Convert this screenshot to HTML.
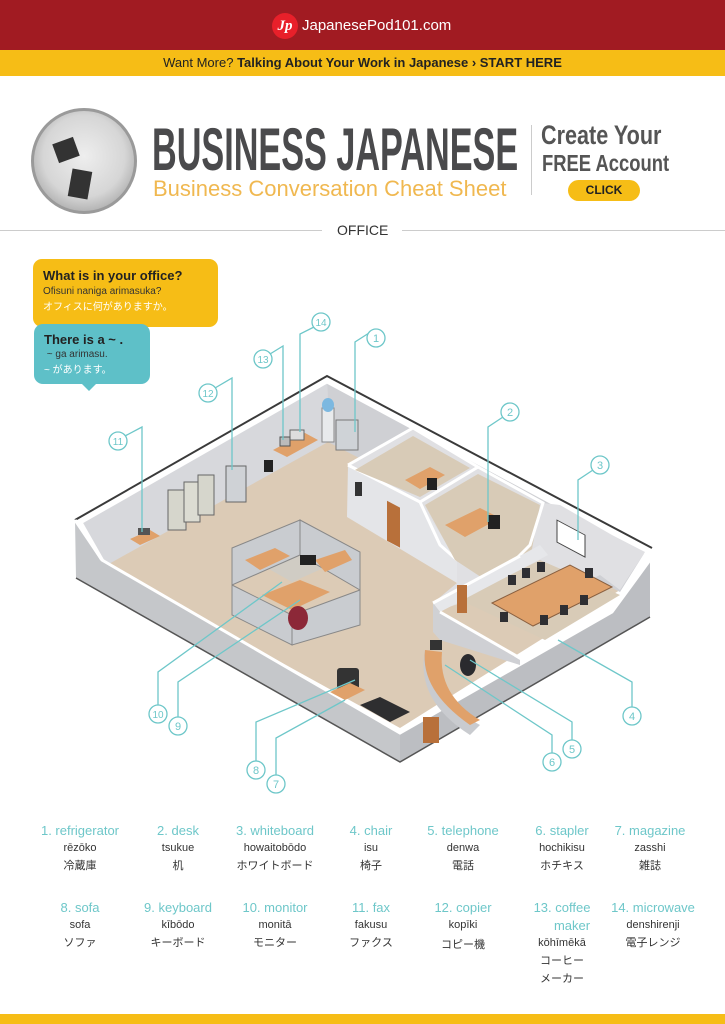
<!DOCTYPE html>
<html><head><meta charset="utf-8"><style>
*{margin:0;padding:0;box-sizing:border-box}
body{width:725px;height:1024px;background:#fff;position:relative;overflow:hidden;font-family:"Liberation Sans","Noto Sans CJK JP",sans-serif}
.abs{position:absolute}
.vh{font-size:13px;line-height:18px;color:#6ec7c9;text-align:center;white-space:nowrap}
.vr{font-size:11px;line-height:16px;color:#333;text-align:center}
.vk{font-size:11px;line-height:16px;color:#333;text-align:center;margin-top:2px}
.col{position:absolute;width:110px;text-align:center}
</style></head><body>
<div class="abs" style="left:0;top:0;width:725px;height:50px;background:#a11b22"></div>
<div class="abs" style="left:272px;top:13px;width:26px;height:26px;border-radius:50%;background:#e8202a;color:#fff;font:italic bold 15px 'Liberation Serif',serif;text-align:center;line-height:26px">Jp</div>
<div class="abs" style="left:302px;top:17px;color:#fff;font-size:15px">JapanesePod101.com</div>
<div class="abs" style="left:0;top:50px;width:725px;height:26px;background:#f6bd16;text-align:center;font-size:13px;line-height:26px;color:#222">Want More? <b>Talking About Your Work in Japanese › START HERE</b></div>
<div class="abs" style="left:31px;top:108px;width:106px;height:106px;border-radius:50%;background:radial-gradient(circle at 50% 45%,#eee 0,#d6d6d6 55%,#888 100%);border:3px solid #9a9a9a"></div>
<div class="abs" style="left:55px;top:140px;width:22px;height:20px;background:#333;transform:rotate(-20deg)"></div>
<div class="abs" style="left:70px;top:170px;width:20px;height:28px;background:#333;transform:rotate(10deg)"></div>
<div class="abs" style="left:152px;top:120px;font-size:60px;line-height:60px;font-weight:bold;color:#4a4a4c;transform:scaleX(0.57);transform-origin:left top;white-space:nowrap">BUSINESS JAPANESE</div>
<div class="abs" style="left:153px;top:176px;font-size:22px;color:#f0b850;white-space:nowrap">Business Conversation Cheat Sheet</div>
<div class="abs" style="left:531px;top:125px;width:1px;height:70px;background:#ccc"></div>
<div class="abs" style="left:541px;top:120px;font-size:27px;font-weight:bold;color:#555;transform:scaleX(0.8);transform-origin:left top;white-space:nowrap">Create Your</div>
<div class="abs" style="left:542px;top:150px;font-size:23px;font-weight:bold;color:#555;transform:scaleX(0.8);transform-origin:left top;white-space:nowrap">FREE Account</div>
<div class="abs" style="left:568px;top:180px;width:72px;height:21px;border-radius:11px;background:#f6bd16;font-size:12px;font-weight:bold;text-align:center;line-height:21px;color:#222">CLICK</div>
<div class="abs" style="left:0;top:230px;width:322px;height:1px;background:#ccc"></div>
<div class="abs" style="left:402px;top:230px;width:323px;height:1px;background:#ccc"></div>
<div class="abs" style="left:337px;top:222px;font-size:14px;color:#333">OFFICE</div>

<svg class="abs" style="left:0;top:0" width="725" height="1024">
<polygon points="328,440 620,590 400,728 105,565" fill="#dccbb6"/>
<polygon points="327,381 82,521 107,565 328,442" fill="#d7d8dc"/>
<polygon points="327,381 645,552 620,592 328,442" fill="#cfd0d4"/>
<polyline points="75,520 327,376 652,548" fill="none" stroke="#3a3a3a" stroke-width="2"/>
<polyline points="82,522 327,382 645,553" fill="none" stroke="#fff" stroke-width="3"/>
<polygon points="75,520 100,560 400,733 400,762 76,578" fill="#c5c7ca"/>
<polygon points="400,733 612,612 650,560 650,617 400,762" fill="#bcbec2"/>
<polyline points="75,520 102,560 400,733 612,612 650,560" fill="none" stroke="#fff" stroke-width="3"/>
<polyline points="76,578 400,762 650,617" fill="none" stroke="#555" stroke-width="1.5"/>
<rect x="423" y="717" width="16" height="26" fill="#b8703a"/>
<polygon points="348,465 413,428 478,467 543,503 560,505 612,535 645,552 620,590 600,575 540,605 515,590 470,600 440,610 433,603 457,583 420,502" fill="#e0e0e3"/>
<polygon points="348,465 420,502 457,560 457,583 347,517" fill="#e4e5e8"/>
<polyline points="348,465 413,428 478,467 420,502 348,465" fill="none" stroke="#fff" stroke-width="3"/>
<polyline points="420,502 440,545 457,560" fill="none" stroke="#fff" stroke-width="3"/>
<polygon points="355,470 413,436 470,468 420,497" fill="#d8cbb7"/>
<polygon points="425,505 478,474 540,505 530,560 490,583 455,560" fill="#d8cbb7"/>
<polyline points="478,467 543,503 530,545 515,560" fill="none" stroke="#fff" stroke-width="3"/>
<polygon points="460,600 540,560 620,595 545,640" fill="#d8cbb7"/>
<polygon points="433,603 540,545 548,555 440,612" fill="#e6e7ea"/>
<polygon points="433,603 440,612 440,640 433,632" fill="#d0d1d4"/>
<polyline points="433,603 520,556" fill="none" stroke="#fff" stroke-width="3"/>
<polygon points="440,612 520,660 520,665 440,640" fill="#cfd0d4"/>
<line x1="440" y1="612" x2="520" y2="658" stroke="#fff" stroke-width="3"/>
<rect x="387" y="500" width="13" height="40" fill="#b8703a" transform="skewY(28) translate(0,-205)"/>
<rect x="457" y="585" width="10" height="28" fill="#b8703a"/>
<rect x="557" y="520" width="28" height="22" fill="#fff" stroke="#444" transform="skewY(28) translate(0,-296)"/>
<rect x="355" y="482" width="7" height="14" fill="#333"/>
<polygon points="492,603 570,565 612,587 533,626" fill="#e0a16a" stroke="#8a6040"/>
<g fill="#2f2f33"><rect x="508" y="575" width="8" height="10"/><rect x="522" y="568" width="8" height="10"/><rect x="537" y="562" width="8" height="10"/><rect x="585" y="568" width="8" height="10"/><rect x="500" y="612" width="8" height="10"/><rect x="540" y="615" width="8" height="10"/><rect x="560" y="605" width="8" height="10"/><rect x="580" y="595" width="8" height="10"/></g>
<polygon points="445,525 480,508 500,518 465,537" fill="#e0a16a"/>
<rect x="488" y="515" width="12" height="14" fill="#222"/>
<polygon points="405,480 430,467 445,475 420,489" fill="#e0a16a"/>
<rect x="427" y="478" width="10" height="12" fill="#222"/>
<rect x="336" y="420" width="22" height="30" fill="#cfd3d7" stroke="#777"/>
<rect x="322" y="408" width="12" height="34" fill="#e8eaec" stroke="#888"/>
<ellipse cx="328" cy="405" rx="6" ry="7" fill="#7cb8e0"/>
<polygon points="273,450 305,433 318,440 287,457" fill="#e0a16a"/>
<rect x="290" y="430" width="14" height="10" fill="#ddd" stroke="#666"/>
<rect x="280" y="437" width="10" height="9" fill="#bbb" stroke="#555"/>
<rect x="226" y="466" width="20" height="36" fill="#cfd2d6" stroke="#666"/>
<rect x="264" y="460" width="9" height="12" fill="#222"/>
<rect x="168" y="490" width="18" height="40" fill="#d6d6cc" stroke="#666"/>
<rect x="184" y="482" width="16" height="40" fill="#dcdcd2" stroke="#666"/>
<rect x="198" y="475" width="16" height="40" fill="#d6d6cc" stroke="#666"/>
<polygon points="130,539 150,530 160,536 140,545" fill="#e0a16a"/>
<rect x="138" y="528" width="12" height="7" fill="#555"/>
<polygon points="232,548 300,520 360,552 292,582" fill="#d0ccc4"/>
<g fill="#c9ccd0" stroke="#888" stroke-width="1">
<polygon points="232,548 300,520 300,555 232,585"/>
<polygon points="300,520 360,552 360,590 300,555"/>
<polygon points="232,585 292,615 292,645 232,615"/>
<polygon points="292,615 360,590 360,625 292,645"/>
</g>
<polygon points="245,560 275,548 290,556 260,570" fill="#e0a16a"/>
<polygon points="315,560 345,550 352,560 325,572" fill="#e0a16a"/>
<polygon points="262,595 300,580 330,592 292,610" fill="#e0a16a"/>
<ellipse cx="298" cy="618" rx="10" ry="12" fill="#8c2838"/>
<rect x="300" y="555" width="16" height="10" fill="#222"/>
<path d="M425,650 Q415,700 470,735 L480,725 Q432,700 440,655 Z" fill="#c9cbcf"/>
<path d="M425,650 Q420,690 470,725 L480,720 Q438,695 442,652 Z" fill="#e0a16a"/>
<rect x="430" y="640" width="12" height="10" fill="#333"/>
<ellipse cx="468" cy="665" rx="8" ry="11" fill="#2a2a2e"/>
<rect x="337" y="668" width="22" height="22" fill="#333" rx="3"/>
<polygon points="330,692 350,683 365,690 345,700" fill="#e0a16a"/>
<polygon points="360,705 380,697 410,712 390,722" fill="#2e2e30"/>
<g fill="none" stroke="#6ec7c9" stroke-width="1.3">
<polyline points="369,333 355,342 355,432"/>
<polyline points="503,417 488,427 488,522"/>
<polyline points="593,470 578,480 578,540"/>
<polyline points="632,707 632,682 558,640"/>
<polyline points="572,740 572,722 470,660"/>
<polyline points="552,753 552,735 445,665"/>
<polyline points="276,775 276,738 345,700"/>
<polyline points="256,761 256,722 355,680"/>
<polyline points="178,717 178,682 300,600"/>
<polyline points="158,705 158,672 282,582"/>
<polyline points="125,436 142,427 142,532"/>
<polyline points="215,388 232,378 232,470"/>
<polyline points="270,354 283,346 283,440"/>
<polyline points="314,327 300,334 300,432"/>
</g>
<g fill="#fff" stroke="#6ec7c9" stroke-width="1.3">
<circle cx="376" cy="338" r="9"/><circle cx="510" cy="412" r="9"/><circle cx="600" cy="465" r="9"/><circle cx="632" cy="716" r="9"/><circle cx="572" cy="749" r="9"/><circle cx="552" cy="762" r="9"/><circle cx="276" cy="784" r="9"/><circle cx="256" cy="770" r="9"/><circle cx="178" cy="726" r="9"/><circle cx="158" cy="714" r="9"/><circle cx="118" cy="441" r="9"/><circle cx="208" cy="393" r="9"/><circle cx="263" cy="359" r="9"/><circle cx="321" cy="322" r="9"/>
</g>
<g fill="#6ec7c9" font-family="Liberation Sans" font-size="11" text-anchor="middle">
<text x="376" y="342">1</text><text x="510" y="416">2</text><text x="600" y="469">3</text><text x="632" y="720">4</text><text x="572" y="753">5</text><text x="552" y="766">6</text><text x="276" y="788">7</text><text x="256" y="774">8</text><text x="178" y="730">9</text><text x="158" y="718" font-size="10">10</text><text x="118" y="445" font-size="10">11</text><text x="208" y="397" font-size="10">12</text><text x="263" y="363" font-size="10">13</text><text x="321" y="326" font-size="10">14</text>
</g>
</svg>

<div class="abs" style="left:33px;top:259px;width:185px;height:68px;border-radius:9px;background:#f6bd16;padding:9px 0 0 10px">
<div style="font-size:13px;font-weight:bold;color:#222">What is in your office?</div>
<div style="font-size:10px;color:#333;margin-top:3px">Ofisuni naniga arimasuka?</div>
<div style="font-size:10px;color:#fff;margin-top:1px">オフィスに何がありますか。</div></div>
<div class="abs" style="left:34px;top:324px;width:116px;height:60px;border-radius:9px;background:#5ec0c8;padding:8px 0 0 10px">
<div style="font-size:13px;font-weight:bold;color:#222">There is a ~ .</div>
<div style="font-size:10px;color:#333;margin-top:2px">&nbsp;~ ga arimasu.</div>
<div style="font-size:10px;color:#fff;margin-top:1px">~ があります。</div></div>
<div class="abs" style="left:81px;top:383px;width:0;height:0;border-left:8px solid transparent;border-right:8px solid transparent;border-top:8px solid #5ec0c8"></div>

<div class="col" style="left:25px;top:822px"><div class="vh">1. refrigerator</div><div class="vr">rēzōko</div><div class="vk">冷蔵庫</div></div>
<div class="col" style="left:123px;top:822px"><div class="vh">2. desk</div><div class="vr">tsukue</div><div class="vk">机</div></div>
<div class="col" style="left:220px;top:822px"><div class="vh">3. whiteboard</div><div class="vr">howaitobōdo</div><div class="vk">ホワイトボード</div></div>
<div class="col" style="left:316px;top:822px"><div class="vh">4. chair</div><div class="vr">isu</div><div class="vk">椅子</div></div>
<div class="col" style="left:408px;top:822px"><div class="vh">5. telephone</div><div class="vr">denwa</div><div class="vk">電話</div></div>
<div class="col" style="left:507px;top:822px"><div class="vh">6. stapler</div><div class="vr">hochikisu</div><div class="vk">ホチキス</div></div>
<div class="col" style="left:595px;top:822px"><div class="vh">7. magazine</div><div class="vr">zasshi</div><div class="vk">雑誌</div></div>
<div class="col" style="left:25px;top:899px"><div class="vh">8. sofa</div><div class="vr">sofa</div><div class="vk">ソファ</div></div>
<div class="col" style="left:123px;top:899px"><div class="vh">9. keyboard</div><div class="vr">kībōdo</div><div class="vk">キーボード</div></div>
<div class="col" style="left:220px;top:899px"><div class="vh">10. monitor</div><div class="vr">monitā</div><div class="vk">モニター</div></div>
<div class="col" style="left:316px;top:899px"><div class="vh">11. fax</div><div class="vr">fakusu</div><div class="vk">ファクス</div></div>
<div class="col" style="left:408px;top:899px"><div class="vh">12. copier</div><div class="vr">kopīki</div><div class="vk" style="margin-top:4px">コピー機</div></div>
<div class="col" style="left:507px;top:899px"><div class="vh">13. coffee<br><span style="padding-left:20px">maker</span></div><div class="vr">kōhīmēkā</div><div class="vk">コーヒー</div><div class="vk">メーカー</div></div>
<div class="col" style="left:598px;top:899px"><div class="vh">14. microwave</div><div class="vr">denshirenji</div><div class="vk">電子レンジ</div></div>
<div class="abs" style="left:0;top:1014px;width:725px;height:10px;background:#f6bd16"></div>
</body></html>
